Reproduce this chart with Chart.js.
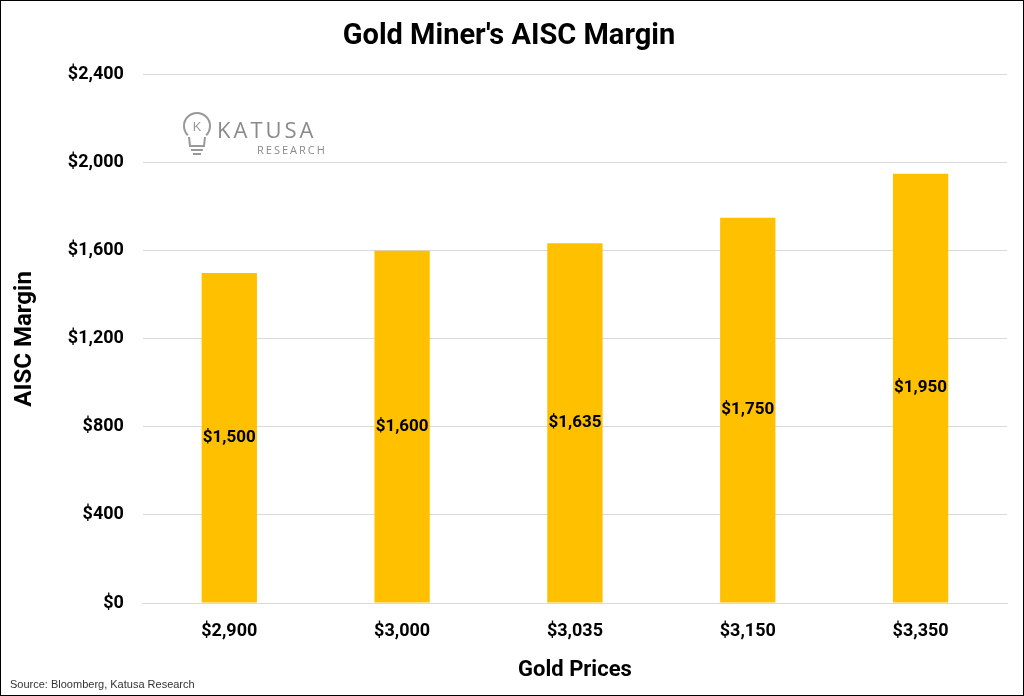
<!DOCTYPE html>
<html><head><meta charset="utf-8">
<script src="https://cdn.jsdelivr.net/npm/chart.js@4"></script>
<style>html,body{margin:0;padding:0;background:#fff}#w{position:absolute;left:0;top:0;width:1022px;height:694px;border:1px solid #000}</style>
</head><body><div id="w"><canvas id="c" width="1022" height="694"></canvas></div>
<script>
const categories=["$2,900","$3,000","$3,035","$3,150","$3,350"];
const margins=[1500,1600,1635,1750,1950];
const tickValues=[0,400,800,1200,1600,2000,2400];
const fmt=v=>"$"+v.toLocaleString("en-US");
const extras={id:"extras",afterDraw(ch){const c=ch.ctx;c.save();
const m=ch.getDatasetMeta(0);c.fillStyle="#000";c.font="bold 17px Roboto, 'Liberation Sans', sans-serif";c.textAlign="center";c.textBaseline="middle";
m.data.forEach((b,i)=>{c.fillText(fmt(margins[i]),b.x,(b.y+b.base)/2);});
c.fillStyle="#333";c.font="11px 'Liberation Sans', sans-serif";c.textAlign="left";c.textBaseline="alphabetic";c.fillText("Source: Bloomberg, Katusa Research",9,687);
c.strokeStyle="#999";c.lineWidth=2;c.beginPath();c.arc(196,125,13,Math.PI*0.75,Math.PI*2.25);c.stroke();
c.beginPath();c.moveTo(188,136);c.lineTo(189,145);c.lineTo(203,145);c.lineTo(204,136);c.stroke();
c.beginPath();c.moveTo(190,149);c.lineTo(202,149);c.moveTo(192,153);c.lineTo(200,153);c.stroke();
c.fillStyle="#999";c.font="13px 'Liberation Sans', sans-serif";c.textAlign="center";c.fillText("K",196,130);
c.fillStyle="#8a8a8a";c.font="22px 'Open Sans', sans-serif";c.textAlign="left";c.letterSpacing="3px";c.fillText("KATUSA",216,137);
c.font="11px 'Open Sans', sans-serif";c.letterSpacing="2px";c.fillText("RESEARCH",256,153);
c.restore();}};
new Chart(document.getElementById("c"),{type:"bar",
data:{labels:categories,datasets:[{data:margins,backgroundColor:"#FFC000",categoryPercentage:1,barPercentage:0.32}]},
options:{responsive:false,animation:false,
layout:{padding:{left:10,right:16,top:14,bottom:0}},
plugins:{legend:{display:false},tooltip:{enabled:false},
title:{display:true,text:"Gold Miner's AISC Margin",color:"#000",font:{size:29,weight:"bold",family:"Roboto, 'Liberation Sans', sans-serif"},padding:{top:4,bottom:21}}},
scales:{
x:{grid:{display:false},border:{color:"#d9d9d9"},ticks:{color:"#000",font:{size:18,weight:"bold",family:"Roboto, 'Liberation Sans', sans-serif"},padding:10},
title:{display:true,text:"Gold Prices",color:"#000",font:{size:22,weight:"bold",family:"Roboto, 'Liberation Sans', sans-serif"},padding:{top:5,bottom:11}}},
y:{min:0,max:2400,afterBuildTicks:a=>{a.ticks=tickValues.map(v=>({value:v}));},
grid:{color:"#d9d9d9",drawTicks:false},border:{display:false},
ticks:{color:"#000",font:{size:18,weight:"bold",family:"Roboto, 'Liberation Sans', sans-serif"},padding:19,callback:v=>fmt(v)},
title:{display:true,text:"AISC Margin",color:"#000",font:{size:24,weight:"bold",family:"Roboto, 'Liberation Sans', sans-serif"},padding:{top:0,bottom:9}}}}},
plugins:[extras]});
</script></body></html>
